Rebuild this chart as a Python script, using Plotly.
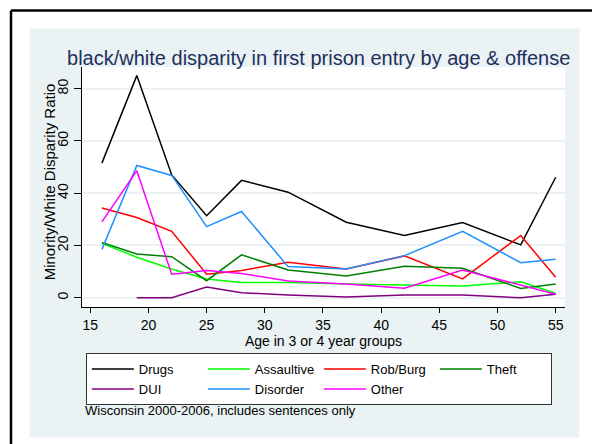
import plotly.graph_objects as go

# ===== data =====
age = [16, 19, 22, 25, 28, 32, 37, 42, 47, 52, 55]

drugs = [51.5, 85.0, 47.0, 31.4, 44.9, 40.4, 28.9, 23.8, 28.8, 20.2, 46.1]
assaultive = [20.8, 15.5, 11.0, 7.2, 5.8, 5.8, 5.2, 4.8, 4.5, 6.1, 1.7]
rob_burg = [34.3, 30.7, 25.4, 9.0, 10.4, 13.6, 11.0, 16.0, 7.2, 23.8, 7.8]
theft = [21.1, 16.7, 15.7, 6.5, 16.4, 10.6, 8.3, 12.0, 11.3, 3.5, 5.2]
dui = [None, 0.0, 0.0, 4.1, 1.9, 1.0, 0.3, 1.0, 1.0, 0.0, 1.3]
disorder = [18.5, 50.6, 46.8, 27.2, 33.0, 11.9, 11.0, 16.1, 25.4, 13.4, 14.7]
other = [29.0, 48.6, 9.0, 10.4, 9.3, 6.4, 5.2, 3.6, 10.6, 4.9, 1.3]

y_ticks = [0, 20, 40, 60, 80]
x_ticks = [15, 20, 25, 30, 35, 40, 45, 50, 55]

series = [
    ("Drugs", drugs, "#000000"),
    ("Assaultive", assaultive, "#00ff00"),
    ("Rob/Burg", rob_burg, "#ff0000"),
    ("Theft", theft, "#008000"),
    ("DUI", dui, "#800080"),
    ("Disorder", disorder, "#1e90ff"),
    ("Other", other, "#ff00ff"),
]

bg = "#eaf2f3"
font = "Liberation Sans, Arial, sans-serif"

fig = go.Figure()
for name, vals, col in series:
    fig.add_trace(go.Scatter(
        x=age, y=vals, mode="lines", name=name,
        line=dict(color=col, width=1.5),
    ))

fig.update_layout(
    width=592, height=444,
    margin=dict(l=82, r=27, t=67, b=137),
    paper_bgcolor="white",
    plot_bgcolor="white",
    font=dict(family=font, size=14, color="#000000"),
    title=dict(
        text="black/white disparity in first prison entry by age & offense",
        font=dict(size=20, color="#1e2f5e"),
        xref="paper", x=0.49, xanchor="center",
        yref="container", y=1 - 58 / 444, yanchor="middle",
    ),
    legend=dict(
        orientation="h",
        x=0.008, xanchor="left",
        y=-0.192, yanchor="top",
        bgcolor="white",
        bordercolor="#333333", borderwidth=1,
        itemwidth=42,
        entrywidth=59,
        font=dict(size=13),
        traceorder="normal",
    ),
    showlegend=True,
)

fig.update_xaxes(
    range=[14.29, 55.8],
    tickvals=x_ticks,
    ticks="outside", ticklen=5, tickcolor="black",
    showline=True, linecolor="black", linewidth=1,
    showgrid=False, zeroline=False,
    title=dict(text="Age in 3 or 4 year groups", standoff=2, font=dict(size=14)),
    tickfont=dict(size=14),
)
fig.update_yaxes(
    range=[-3.56, 88.3],
    tickvals=y_ticks,
    tickangle=-90,
    ticks="outside", ticklen=7, tickcolor="black",
    showline=True, linecolor="black", linewidth=1,
    showgrid=True, gridcolor=bg, gridwidth=1.5,
    zeroline=False,
    tickfont=dict(size=14),
)

# y-axis title placed close to the tick labels, as in the original
fig.add_annotation(
    text="Minority/White Disparity Ratio",
    xref="paper", yref="paper", x=-0.068, y=0.52,
    xanchor="center", yanchor="middle", textangle=-90, showarrow=False,
    font=dict(size=15),
)

# background panel, plot area and outer frame
fig.add_shape(type="rect", xref="paper", yref="paper",
              x0=-0.1087, x1=1.030, y0=-0.5437, y1=1.1604,
              fillcolor=bg, line=dict(width=0), layer="below")
fig.add_shape(type="rect", xref="paper", yref="paper",
              x0=0, x1=1, y0=0, y1=1,
              fillcolor="white", line=dict(width=0), layer="below")
fig.add_shape(type="line", xref="paper", yref="paper",
              x0=-0.147, x1=1.06, y0=1.2354, y1=1.2354,
              line=dict(color="black", width=2.5))
fig.add_shape(type="line", xref="paper", yref="paper",
              x0=-0.147, x1=-0.147, y0=1.2354, y1=-0.58,
              line=dict(color="black", width=2.5))

fig.add_annotation(
    text="Wisconsin 2000-2006, includes sentences only",
    xref="paper", yref="paper", x=0.002, y=-0.433,
    xanchor="left", yanchor="middle", showarrow=False,
    font=dict(size=13),
)

# remove the default page margin so the chart sits at the window origin
fig.write_html("out.html", config={"displayModeBar": False},
               post_script="document.body.style.margin='0';")
